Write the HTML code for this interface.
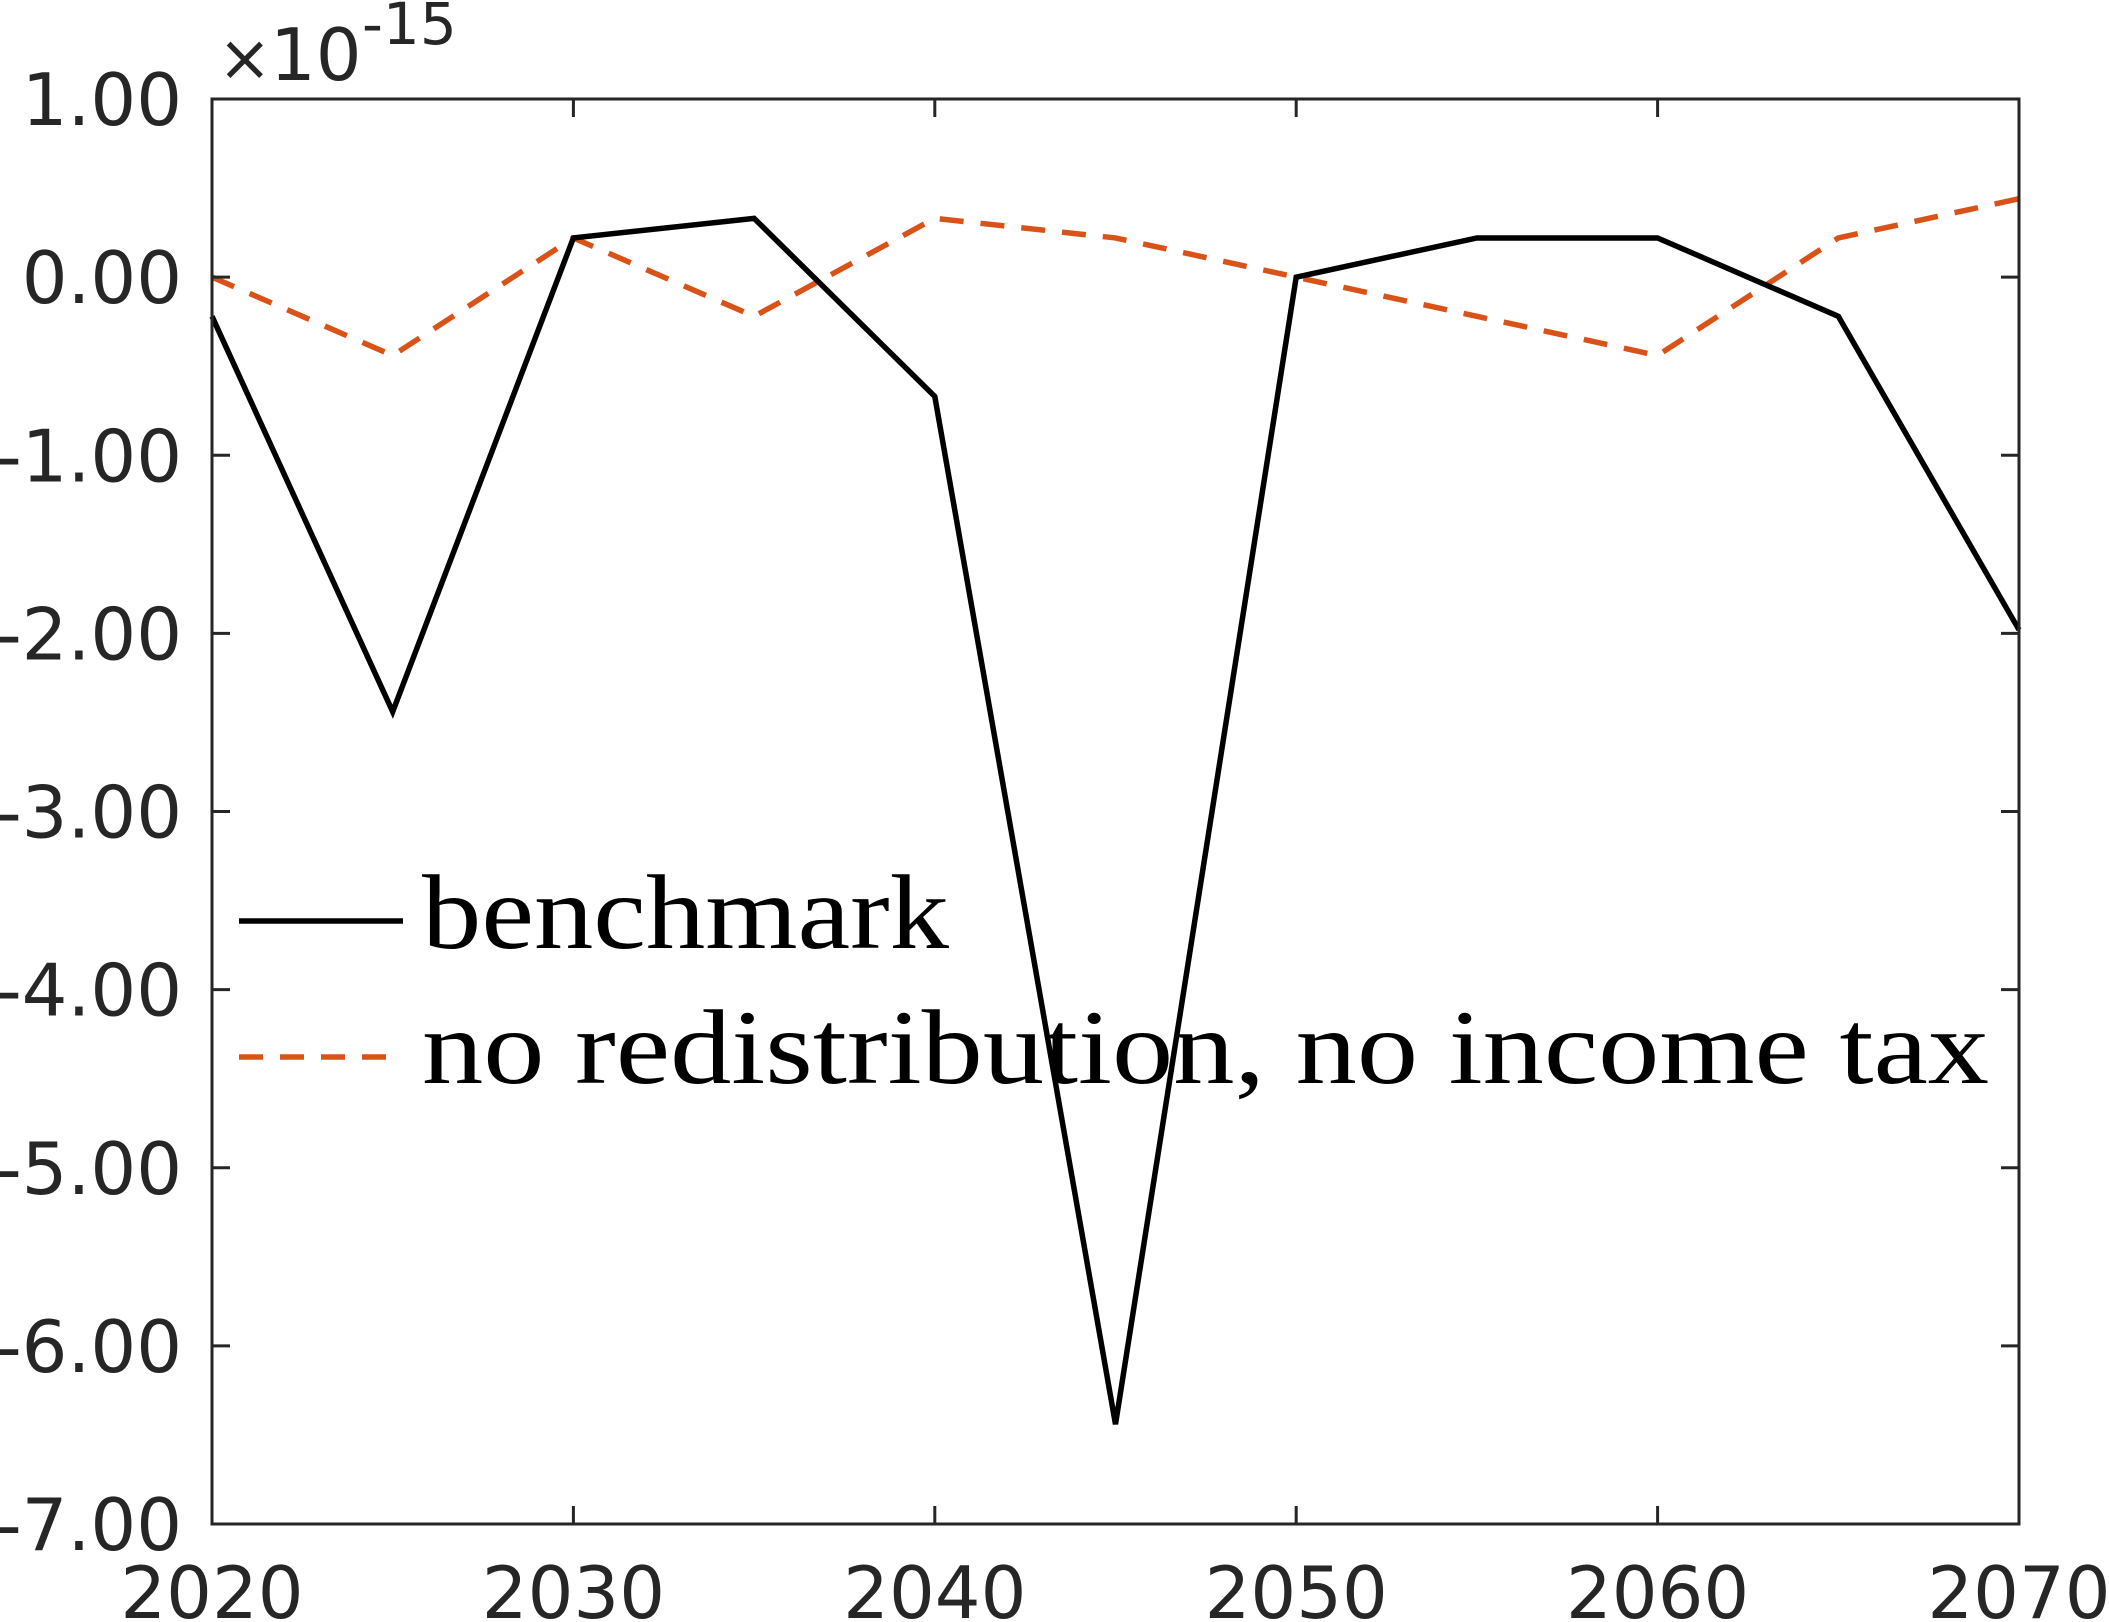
<!DOCTYPE html>
<html><head><meta charset="utf-8"><style>body{margin:0;background:#fff}svg{display:block}</style></head>
<body>
<svg id="chart" width="2109" height="1622" xmlns="http://www.w3.org/2000/svg">
<g id="plot"></g>
</svg>
<script>
const years=[2020,2025,2030,2035,2040,2045,2050,2055,2060,2065,2070];
const benchmark=[-0.22,-2.44,0.22,0.33,-0.67,-6.44,0,0.22,0.22,-0.22,-1.98];
const noRedistribution=[0,-0.44,0.22,-0.22,0.33,0.22,0,-0.22,-0.44,0.22,0.44];
const yTicks=[1,0,-1,-2,-3,-4,-5,-6,-7];
const yTickLabels=["1.00","0.00","-1.00","-2.00","-3.00","-4.00","-5.00","-6.00","-7.00"];
const xTicks=[2020,2030,2040,2050,2060,2070];
const xTickLabels=["2020","2030","2040","2050","2060","2070"];

const L=212,R=2019,T=99,B=1524;
const x=v=>L+(v-2020)/(2070-2020)*(R-L);
const y=v=>T+(1-v)/(1-(-7))*(B-T);
const NS="http://www.w3.org/2000/svg";
const svg=document.getElementById('chart');
function mk(tag,attrs,parent){const e=document.createElementNS(NS,tag);for(const k in attrs)e.setAttribute(k,attrs[k]);(parent||svg).appendChild(e);return e;}
const font='"DejaVu Sans","Liberation Sans",sans-serif';

let p1=mk('polyline',{points:years.map((t,i)=>x(t)+','+y(noRedistribution[i])).join(' '),fill:'none',stroke:'#D95319','stroke-width':5.5,'stroke-dasharray':'24 17'});


let p0=mk('polyline',{points:years.map((t,i)=>x(t)+','+y(benchmark[i])).join(' '),fill:'none',stroke:'#000','stroke-width':5.5,'stroke-linejoin':'miter'});



let box=mk('rect',{x:L,y:T,width:R-L,height:B-T,fill:'none',stroke:'#262626','stroke-width':3});



yTicks.forEach((v,i)=>{
  mk('line',{x1:L,x2:L+18,y1:y(v),y2:y(v),stroke:'#262626','stroke-width':3});
  mk('line',{x1:R,x2:R-18,y1:y(v),y2:y(v),stroke:'#262626','stroke-width':3});
  let t=mk('text',{x:182,y:y(v)+26,'text-anchor':'end','font-size':72,fill:'#262626','font-family':font});
  t.textContent=yTickLabels[i];
  
  
});
xTicks.forEach((v,i)=>{
  mk('line',{x1:x(v),x2:x(v),y1:B,y2:B-18,stroke:'#262626','stroke-width':3});
  mk('line',{x1:x(v),x2:x(v),y1:T,y2:T+18,stroke:'#262626','stroke-width':3});
  let t=mk('text',{x:x(v),y:1618,'text-anchor':'middle','font-size':72,fill:'#262626','font-family':font});
  t.textContent=xTickLabels[i];
  
  
});
</script>
<svg style="position:absolute;left:0;top:0" width="2109" height="1622" xmlns="http://www.w3.org/2000/svg">
<g fill="#262626" font-family="DejaVu Sans, Liberation Sans, sans-serif">
<text x="218" y="80" font-size="64">×</text>
<text x="270" y="80" font-size="72">10</text>
<text x="362" y="44" font-size="58">-15</text>
</g>
<g>
<line x1="239" x2="403" y1="921" y2="921" stroke="#000" stroke-width="5.5"/>
<text x="422" y="948" font-size="106" font-family="Liberation Serif, serif" textLength="527" lengthAdjust="spacingAndGlyphs">benchmark</text>
<line x1="239" x2="403" y1="1057" y2="1057" stroke="#D95319" stroke-width="5.5" stroke-dasharray="24 17"/>
<text x="422" y="1083" font-size="106" font-family="Liberation Serif, serif" textLength="1567" lengthAdjust="spacingAndGlyphs">no redistribution, no income tax</text>
</g>
</svg>
</body></html>
